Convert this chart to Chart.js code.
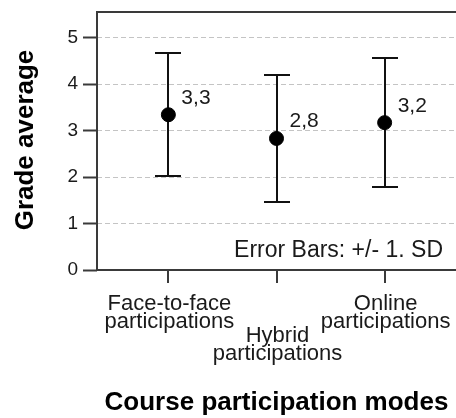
<!DOCTYPE html>
<html>
<head>
<meta charset="utf-8">
<script src="https://cdn.jsdelivr.net/npm/chart.js@4/dist/chart.umd.min.js"></script>
<style>
  html, body { margin: 0; padding: 0; background: #fff; }
  #wrap { width: 456px; height: 418px; }
</style>
</head>
<body>
<div id="wrap"><canvas id="chart" width="456" height="418"></canvas></div>
<script>
  // data
  const categories = [
    ['Face-to-face', 'participations'],
    ['Hybrid', 'participations'],
    ['Online', 'participations']
  ];
  const means = [3.34, 2.83, 3.17];
  const sds = [1.32, 1.37, 1.39];
  const yTicks = [0, 1, 2, 3, 4, 5];

  const FONT = '"Liberation Sans", Arial, sans-serif';
  const AXIS_COLOR = '#3a3a3a';

  function fmt(v) {
    return v.toFixed(1).replace('.', ',');
  }

  // error bars behind the points
  const errorBars = {
    id: 'errorBars',
    beforeDatasetsDraw(chart) {
      const ctx = chart.ctx;
      const x = chart.scales.x, y = chart.scales.y;
      ctx.save();
      ctx.strokeStyle = '#111';
      ctx.lineWidth = 2;
      means.forEach((m, i) => {
        const px = Math.round(x.getPixelForValue(i + 1));
        const top = Math.round(y.getPixelForValue(m + sds[i]));
        const bot = Math.round(y.getPixelForValue(m - sds[i]));
        ctx.beginPath();
        ctx.moveTo(px, top); ctx.lineTo(px, bot);
        ctx.moveTo(px - 13, top); ctx.lineTo(px + 13, top);
        ctx.moveTo(px - 13, bot); ctx.lineTo(px + 13, bot);
        ctx.stroke();
      });
      ctx.restore();
    }
  };

  // frame, x ticks, labels and titles
  const decorations = {
    id: 'decorations',
    afterDraw(chart) {
      const ctx = chart.ctx;
      const area = chart.chartArea;
      const x = chart.scales.x, y = chart.scales.y;
      ctx.save();

      // frame
      ctx.strokeStyle = AXIS_COLOR;
      ctx.lineWidth = 2;
      ctx.beginPath();
      ctx.moveTo(area.right, area.top); ctx.lineTo(area.left, area.top);
      ctx.lineTo(area.left, area.bottom); ctx.lineTo(area.right, area.bottom);
      ctx.stroke();

      // category ticks below the axis
      ctx.beginPath();
      categories.forEach((c, i) => {
        const px = Math.round(x.getPixelForValue(i + 1));
        ctx.moveTo(px, area.bottom); ctx.lineTo(px, area.bottom + 13);
      });
      ctx.stroke();

      // category labels, middle one staggered down
      ctx.fillStyle = '#1a1a1a';
      ctx.textAlign = 'center';
      ctx.textBaseline = 'alphabetic';
      ctx.font = '22px ' + FONT;
      categories.forEach((lines, i) => {
        const px = x.getPixelForValue(i + 1) + 1;
        const base = area.bottom + 40 + (i % 2 === 1 ? 32 : 0);
        lines.forEach((t, j) => ctx.fillText(t, px, base + j * 18));
      });

      // value labels next to the means
      ctx.textAlign = 'left';
      ctx.font = '21px ' + FONT;
      means.forEach((m, i) => {
        const px = x.getPixelForValue(i + 1);
        const py = y.getPixelForValue(m);
        ctx.fillText(fmt(m), px + 13, py - 11);
      });

      // note
      ctx.textAlign = 'right';
      ctx.font = '23px ' + FONT;
      ctx.fillText('Error Bars: +/- 1. SD', area.right - 13, area.bottom - 13);

      // axis titles
      ctx.fillStyle = '#000';
      ctx.textAlign = 'center';
      ctx.font = 'bold 26px ' + FONT;
      ctx.fillText('Course participation modes', (area.left + area.right) / 2, 410);

      ctx.translate(33, (area.top + area.bottom) / 2 - 1);
      ctx.rotate(-Math.PI / 2);
      ctx.fillText('Grade average', 0, 0);

      ctx.restore();
    }
  };

  new Chart(document.getElementById('chart'), {
    type: 'scatter',
    data: {
      datasets: [{
        data: means.map((m, i) => ({ x: i + 1, y: m })),
        pointRadius: 7,
        pointHoverRadius: 7,
        pointBackgroundColor: '#000',
        pointBorderColor: '#000',
        pointBorderWidth: 1
      }]
    },
    options: {
      responsive: false,
      animation: false,
      events: [],
      layout: { autoPadding: false, padding: { left: 0, top: 12, right: 0, bottom: 148 } },
      plugins: {
        legend: { display: false },
        tooltip: { enabled: false }
      },
      scales: {
        x: {
          type: 'linear',
          min: 0.34,
          max: 3.66,
          display: false
        },
        y: {
          min: 0,
          max: 5.55,
          afterFit(scale) {
            scale.width = 97;
            scale.paddingTop = 0;
            scale.paddingBottom = 0;
          },
          afterBuildTicks(scale) { scale.ticks = yTicks.map(v => ({ value: v })); },
          ticks: {
            includeBounds: false,
            padding: 5,
            color: '#1a1a1a',
            font: { family: FONT, size: 19 }
          },
          border: { display: false, dash: [5, 3] },
          grid: {
            color: '#c4c4c4',
            lineWidth: 1,
            tickLength: 14,
            tickWidth: 2,
            tickColor: AXIS_COLOR,
            tickBorderDash: []
          }
        }
      }
    },
    plugins: [errorBars, decorations]
  });
</script>
</body>
</html>
